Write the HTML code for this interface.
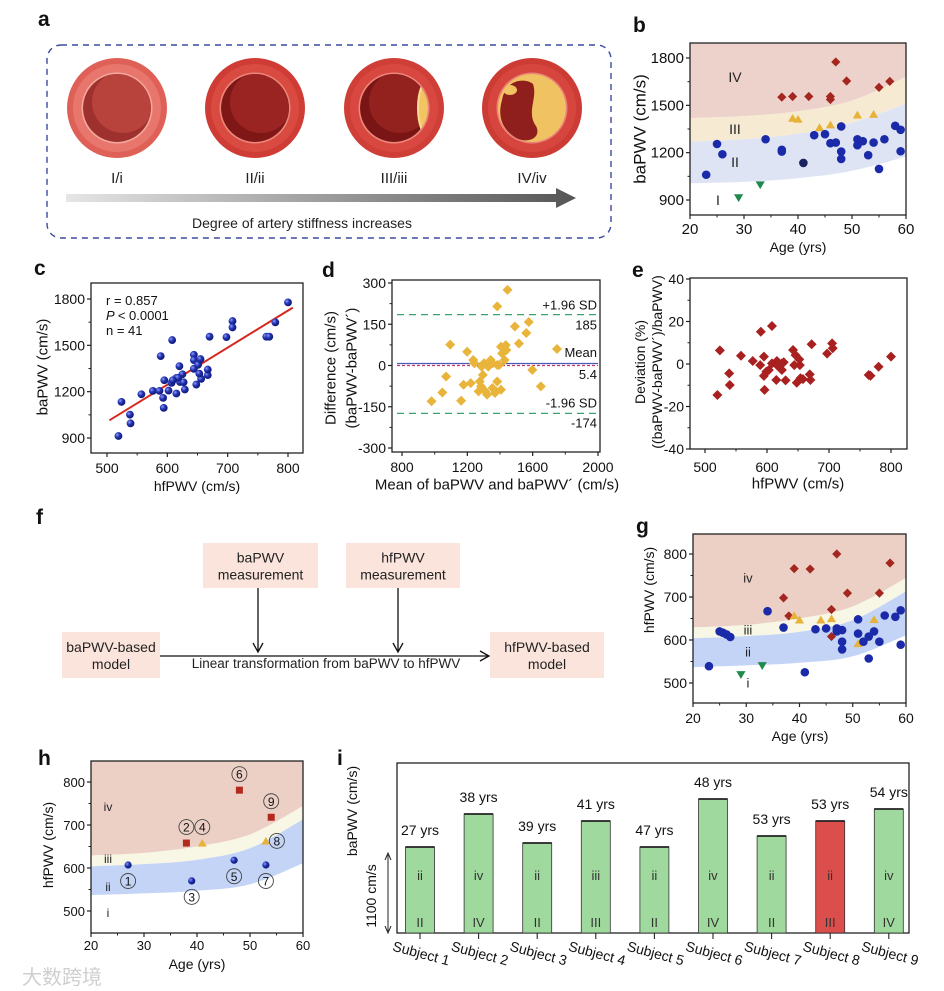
<!DOCTYPE html>
<html><head><meta charset="utf-8"><style>
html,body{margin:0;padding:0;background:#fff;}
svg{display:block;font-family:"Liberation Sans","Noto Sans CJK SC",sans-serif;}
</style></head>
<body>
<svg id="fig" xmlns="http://www.w3.org/2000/svg" width="944" height="991" viewBox="0 0 944 991">
<defs>
<linearGradient id="arrowGrad" x1="0" x2="1" y1="0" y2="0"><stop offset="0" stop-color="#e6e6e6"/><stop offset="1" stop-color="#555"/></linearGradient>
<radialGradient id="sphere" cx="0.35" cy="0.35" r="0.7"><stop offset="0" stop-color="#8d9bff"/><stop offset="0.45" stop-color="#2233b0"/><stop offset="1" stop-color="#0d1670"/></radialGradient>
<clipPath id="clipB"><rect x="690" y="43" width="216" height="172"/></clipPath>
<clipPath id="clipG"><rect x="693" y="534" width="213" height="169"/></clipPath>
<clipPath id="clipH"><rect x="91" y="761" width="212" height="172"/></clipPath>
</defs>
</svg>
<script>
// ---------- data ----------
const bCircleAge=[23,25,26,34,37,37,41,43,45,46,47,48,48,48,51,51,52,53,54,55,56,58,59,59];
const bCircleVal=[1060,1255,1190,1285,1218,1207,1135,1311,1317,1260,1264,1366,1207,1160,1285,1247,1273,1184,1264,1097,1285,1370,1345,1209];
const bTriAge=[39,40,44,46,51,54];
const bTriVal=[1419,1413,1360,1377,1440,1444];
const bDiaAge=[37,39,42,46,46,47,49,55,57];
const bDiaVal=[1552,1556,1556,1556,1537,1775,1654,1614,1652];
const bDownAge=[29,33];
const bDownVal=[913,995];
const bandAges=[20,30,40,50,60];
const bUpper=[1419,1432,1462,1530,1680];
const bMid=[1270,1285,1320,1390,1510];
const bLower=[1006,1015,1038,1085,1175];

const cHf=[519,524,538,539,557,576,587,589,593,594,595,602,607,608,615,615,620,621,625,627,629,644,644,644,648,651,655,656,667,667,670,698,708,708,764,769,779,800,618,609,653];
const cBa=[913,1134,1051,995,1183,1205,1205,1430,1160,1095,1274,1207,1257,1534,1188,1289,1365,1263,1313,1261,1214,1348,1439,1404,1246,1374,1411,1283,1307,1343,1556,1553,1657,1616,1556,1556,1649,1778,1290,1274,1317];
const cFitSlope=2.40, cFitIntercept=-195, cFitRange=[504,808];
const cStats=["r = 0.857","< 0.0001","n = 41"];

const dMean=[981,1047,1070,1095,1162,1177,1199,1221,1236,1243,1269,1276,1284,1287,1295,1302,1310,1321,1328,1343,1354,1354,1369,1376,1383,1383,1395,1406,1406,1413,1383,1428,1435,1439,1446,1491,1516,1561,1576,1598,1650,1749];
const dDiff=[-130,-98,-40,76,-128,-70,50,-64,20,8,-94,-58,-76,-4,-34,8,-94,-106,-4,20,-82,8,-100,-94,2,-58,2,68,-88,44,215,20,74,56,275,142,80,118,158,-16,-76,60];
const dLimits=[185,5.4,-174];

const eHf=[520,524,539,540,558,577,589,590,595,595,596,608,608,599,603,616,616,618,615,624,624,627,630,642,644,648,646,652,653,654,658,669,670,672,697,705,706,764,767,780,800];
const eDev=[-14.6,6.4,-4.4,-9.9,3.9,1.4,-0.5,15.2,3.5,-5.6,-12.2,17.9,0.3,-3.6,-2.8,1.4,-0.5,-0.8,-7.5,-2.8,0.3,0.8,-7.7,6.6,-0.5,-8.8,4.2,2.2,-0.5,-6.7,-7.1,-4.9,-7.5,9.3,4.9,9.7,7.4,-5.2,-5.5,-1.3,3.5];

const gCircleAge=[23,25,25.6,26.3,27,34,37,41,43,45,47,47,48,48,48,51,51,52,53,53,54,55,56,58,59,59];
const gCircleVal=[539,620,617,613,607,667,629,525,625,627,627,620,623,596,578,648,615,596,608,557,620,596,657,654,669,589];
const gTriAge=[39,40,44,46,51,54];
const gTriVal=[657,647,647,650,592,648];
const gDiaAge=[37,38,39,42,46,46,47,49,55,57];
const gDiaVal=[698,656,766,765,671,608,800,709,709,779];
const gDownAge=[29,33];
const gDownVal=[519,540];
const gUpper=[629,635,650,678,744];
const gMid=[604,609,619,646,713];
const gLower=[537,541,547,562,611];

const hIds=["1","2","3","4","5","6","7","8","9"];
const hAge=[27,38,39,41,47,48,53,53,54];
const hVal=[607,658,570,658,618,781,607,663,718];
const hType=["c","s","c","t","c","s","c","t","s"];
const hLabelPos=["below","above","below","above","below","above","below","right","above"];

const iSubjects=["Subject 1","Subject 2","Subject 3","Subject 4","Subject 5","Subject 6","Subject 7","Subject 8","Subject 9"];
const iBaPWV=[1444,1576,1460,1548,1444,1636,1488,1548,1596];
const iAges=["27 yrs","38 yrs","39 yrs","41 yrs","47 yrs","48 yrs","53 yrs","53 yrs","54 yrs"];
const iHfClass=["ii","iv","ii","iii","ii","iv","ii","ii","iv"];
const iBaClass=["II","IV","II","III","II","IV","II","III","IV"];
const iMismatch=[false,false,false,false,false,false,false,true,false];

// ---------- helpers ----------
const NS='http://www.w3.org/2000/svg';
const svg=document.getElementById('fig');
function mk(tag,attrs,parent){const e=document.createElementNS(NS,tag);for(const k in attrs)e.setAttribute(k,attrs[k]);(parent||svg).appendChild(e);return e;}
function txt(s,attrs,parent){const e=mk('text',attrs,parent);e.textContent=s;return e;}
function lin(d0,d1,r0,r1){return v=>r0+(v-d0)*(r1-r0)/(d1-d0);}
function grp(name){const g=mk('g',{});return g;}
function curve(xs,vs){const pts=[];const n=xs.length;for(let i=0;i<n-1;i++){const p0=i>0?i-1:i,p3=i+2<n?i+2:i+1;for(let s=0;s<12;s++){const t=s/12;const f=(a,b,c,d)=>0.5*(2*b+(-a+c)*t+(2*a-5*b+4*c-d)*t*t+(-a+3*b-3*c+d)*t*t*t);pts.push([f(xs[p0],xs[i],xs[i+1],xs[p3]),f(vs[p0],vs[i],vs[i+1],vs[p3])]);}}pts.push([xs[n-1],vs[n-1]]);return pts;}
function axes(p,g,box,sx,sy,xt,xm,yt,ym,fs,xly){
  const r=mk('rect',{x:box[0],y:box[1],width:box[2]-box[0],height:box[3]-box[1],fill:'none',stroke:'#222','stroke-width':1.3},g);
  
  
  xt.forEach(v=>{const x=sx(v);
    const t=mk('line',{x1:x,x2:x,y1:box[3],y2:box[3]+4,stroke:'#222','stroke-width':1.2},g);
    
    
    const l=txt(String(v),{x:x,y:xly,'font-size':fs,'text-anchor':'middle',fill:'#111'},g);
    
    });
  xm.forEach(v=>{const x=sx(v);
    const t=mk('line',{x1:x,x2:x,y1:box[3],y2:box[3]+2.5,stroke:'#222','stroke-width':1},g);
    
    });
  yt.forEach(v=>{const y=sy(v);
    const t=mk('line',{x1:box[0]-4,x2:box[0],y1:y,y2:y,stroke:'#222','stroke-width':1.2},g);
    
    
    const l=txt(String(v),{x:box[0]-6,y:y+5,'font-size':fs,'text-anchor':'end',fill:'#111'},g);
    
    });
  ym.forEach(v=>{const y=sy(v);
    const t=mk('line',{x1:box[0]-2.5,x2:box[0],y1:y,y2:y,stroke:'#222','stroke-width':1},g);
    
    });
}
function ytitle(s,x,y,fs,g,name){const t=txt(s,{x:x,y:y,'font-size':fs,'text-anchor':'middle','dominant-baseline':'central',transform:`rotate(-90 ${x} ${y})`,fill:'#111'},g);return t;}
function xtitle(s,x,y,fs,g,name){const t=txt(s,{x:x,y:y,'font-size':fs,'text-anchor':'middle','dominant-baseline':'central',fill:'#111'},g);return t;}
function plabel(s,x,y){const t=txt(s,{x:x,y:y,'font-size':21,'font-weight':'bold',fill:'#111'});}
function bands(g,clip,sx,sy,box,up,mid,low,cols,name){
  const gg=mk('g',{'clip-path':`url(#${clip})`},g);
  
  
  const U=curve(bandAges,up).map(p=>[sx(p[0]),sy(p[1])]);
  const M=curve(bandAges,mid).map(p=>[sx(p[0]),sy(p[1])]);
  const L=curve(bandAges,low).map(p=>[sx(p[0]),sy(p[1])]);
  const pl=a=>a.map(p=>p[0].toFixed(1)+','+p[1].toFixed(1)).join(' L');
  const rev=a=>a.slice().reverse();
  const z4=mk('path',{d:`M${box[0]-2},${box[1]-2} L${pl(U)} L${box[2]+2},${box[1]-2} Z`,fill:cols[0]},gg);
  
  
  const z3=mk('path',{d:`M${pl(U)} L${pl(rev(M))} Z`,fill:cols[1]},gg);
  
  
  const z2=mk('path',{d:`M${pl(M)} L${pl(rev(L))} Z`,fill:cols[2]},gg);
  
  
}
function diamond(x,y,r,fill,g,name){const e=mk('path',{d:`M${x},${y-r} L${x+r},${y} L${x},${y+r} L${x-r},${y} Z`,fill:fill},g);return e;}
function tri(x,y,r,fill,g,name,down){const d=down?`M${x-r},${y-r*0.8} L${x+r},${y-r*0.8} L${x},${y+r*0.9} Z`:`M${x-r},${y+r*0.8} L${x+r},${y+r*0.8} L${x},${y-r*0.9} Z`;const e=mk('path',{d:d,fill:fill},g);return e;}
function dot(x,y,r,fill,g,name){const e=mk('circle',{cx:x,cy:y,r:r,fill:fill},g);return e;}
function zlab(s,x,y,fs,g,name){const t=txt(s,{x:x,y:y,'font-size':fs,'text-anchor':'middle','dominant-baseline':'central',fill:'#222'},g);}
const BLUE='#1a2aa8',YEL='#e6b23a',RED='#a3261f',GRN='#1f8a4c';

// ---------- panel a ----------
plabel('a',38,26);
const gA=grp('panel-a-artery-stages');
const frame=mk('rect',{x:47,y:45,width:564,height:193,rx:14,fill:'none',stroke:'#3b4aa0','stroke-width':1.4,'stroke-dasharray':'6,5'},gA);


const artX=[117,255,394,532];
const artNames=['I/i','II/ii','III/iii','IV/iv'];
const artCols=[['#de6057','#e8766c','#f3a89e','#b8423c','#9e312d'],['#cf3c35','#d94a41','#ec877c','#9a2421','#7f1716'],['#cf3f38','#d84840','#ec877c','#93211e','#7a1515'],['#cc3c35','#d6463e','#ea8378','#8e1f1c','#761414']];
artX.forEach((cx,i)=>{const cy=108,c=artCols[i];
  const o=dot(cx,cy,50,c[0],gA,'artery-outer-wall');
  const m=dot(cx,cy,44,c[1],gA,'artery-middle-wall');
  const rg=dot(cx,cy,35.5,c[2],gA,'artery-intima');
  const cp=mk('clipPath',{id:'lum'+i},gA);
  mk('circle',{cx:cx,cy:cy,r:34},cp);
  const lg=mk('g',{'clip-path':`url(#lum${i})`},gA);
  
  
  if(i<3){dot(cx,cy,34,c[4],lg,'lumen-shadow');dot(cx+6,cy-6,31,c[3],lg,'lumen-blood');}
  if(i===2){const p=mk('ellipse',{cx:cx+36,cy:cy,rx:12,ry:30,fill:'#f2c462',stroke:'#f8dc98','stroke-width':2},lg);}
  if(i===3){dot(cx,cy,34,'#f0c262',lg,'plaque');
    const b=mk('path',{d:`M${cx-30},${cy-8} C${cx-26},${cy-30} ${cx-6},${cy-30} ${cx+1},${cy-24} C${cx+6},${cy-10} ${cx-6},${cy+4} ${cx+4},${cy+18} C${cx+10},${cy+30} ${cx-4},${cy+36} ${cx-16},${cy+30} C${cx-32},${cy+20} ${cx-34},${cy+6} ${cx-30},${cy-8} Z`,fill:c[3]},lg);
    
    
    const p2=mk('ellipse',{cx:cx-22,cy:cy-18,rx:7,ry:5,fill:'#f0c262'},lg);
    
    }
  const l=txt(artNames[i],{x:cx,y:183,'font-size':15,'text-anchor':'middle',fill:'#222'},gA);
  
  
});
const arr=mk('path',{d:'M66,194 L556,194 L556,188 L576,198 L556,208 L556,202 L66,202 Z',fill:'url(#arrowGrad)'},gA);


const at=txt('Degree of artery stiffness increases',{x:302,y:228,'font-size':14,'text-anchor':'middle',fill:'#222'},gA);



// ---------- panel b ----------
plabel('b',633,32);
const gB=grp('panel-b-bapwv-vs-age');
const bBox=[690,43,906,215];
const bx=lin(20,60,690,906), by=lin(900,1800,200,58);
bands(gB,'clipB',bx,by,bBox,bUpper,bMid,bLower,['#ecd2ca','#f6ebd2','#dfe4f5'],'b');
zlab('IV',735,77,14,gB,'zone-label-IV');
zlab('III',735,129,14,gB,'zone-label-III');
zlab('II',735,162,14,gB,'zone-label-II');
zlab('I',718,200,14,gB,'zone-label-I');
bDiaAge.forEach((a,i)=>diamond(bx(a),by(bDiaVal[i]),4.6,RED,gB,'b-grade-IV-point'));
bTriAge.forEach((a,i)=>tri(bx(a),by(bTriVal[i]),4.6,YEL,gB,'b-grade-III-point'));
bCircleAge.forEach((a,i)=>dot(bx(a),by(bCircleVal[i]),4.3,a===41?'#1b2360':BLUE,gB,'b-grade-II-point'));
bDownAge.forEach((a,i)=>tri(bx(a),by(bDownVal[i]),4.6,GRN,gB,'b-grade-I-point',true));
axes('b',gB,bBox,bx,by,[20,30,40,50,60],[25,35,45,55],[900,1200,1500,1800],[1050,1350,1650],15,234);
ytitle('baPWV (cm/s)',640,129,17,gB,'b-y-axis-title');
xtitle('Age (yrs)',798,247,14,gB,'b-x-axis-title');

// ---------- panel c ----------
plabel('c',34,275);
const gC=grp('panel-c-correlation');
const cBox=[91,283,303,453];
const cx_=lin(500,800,107,288), cy_=lin(900,1800,438,299);
const fit=mk('line',{x1:cx_(cFitRange[0]),y1:cy_(cFitSlope*cFitRange[0]+cFitIntercept),x2:cx_(cFitRange[1]),y2:cy_(cFitSlope*cFitRange[1]+cFitIntercept),stroke:'#d42a22','stroke-width':2},gC);


cHf.forEach((h,i)=>dot(cx_(h),cy_(cBa[i]),3.9,'url(#sphere)',gC,'c-point'));
axes('c',gC,cBox,cx_,cy_,[500,600,700,800],[550,650,750],[900,1200,1500,1800],[1050,1350,1650],14,473);
const s1=txt(cStats[0],{x:106,y:305,'font-size':13,fill:'#111'},gC);


const s2=txt('',{x:106,y:320,'font-size':13,fill:'#111'},gC);


const s2a=mk('tspan',{'font-style':'italic'},s2);s2a.textContent='P ';
const s2b=mk('tspan',{},s2);s2b.textContent=cStats[1];
const s3=txt(cStats[2],{x:106,y:335,'font-size':13,fill:'#111'},gC);


ytitle('baPWV (cm/s)',43,367,15,gC,'c-y-axis-title');
xtitle('hfPWV (cm/s)',197,486,14,gC,'c-x-axis-title');

// ---------- panel d ----------
plabel('d',322,277);
const gD=grp('panel-d-bland-altman');
const dBox=[392,280,600,452];
const dx=lin(800,2000,402,598), dy=lin(-300,300,448,283);
const dl1=mk('line',{x1:397,x2:598,y1:dy(dLimits[0]),y2:dy(dLimits[0]),stroke:'#3aa36e','stroke-width':1.3,'stroke-dasharray':'7,5'},gD);


const dl2=mk('line',{x1:397,x2:598,y1:dy(dLimits[2]),y2:dy(dLimits[2]),stroke:'#3aa36e','stroke-width':1.3,'stroke-dasharray':'7,5'},gD);


const dl0=mk('line',{x1:397,x2:598,y1:dy(0),y2:dy(0),stroke:'#c4306a','stroke-width':1.3,'stroke-dasharray':'3,2'},gD);


const dlm=mk('line',{x1:397,x2:598,y1:dy(dLimits[1])-0.5,y2:dy(dLimits[1])-0.5,stroke:'#4a5ab5','stroke-width':1.3},gD);


dMean.forEach((m,i)=>diamond(dx(m),dy(dDiff[i]),5,'#e8b43a',gD,'d-point'));
axes('d',gD,dBox,dx,dy,[800,1200,1600,2000],[1000,1400,1800],[-300,-150,0,150,300],[-225,-75,75,225],14,472);
[['+1.96 SD',dy(dLimits[0])-5],[String(dLimits[0]),dy(dLimits[0])+15],['Mean',dy(dLimits[1])-7],[String(dLimits[1]),dy(dLimits[1])+15],['-1.96 SD',dy(dLimits[2])-6],[String(dLimits[2]),dy(dLimits[2])+14]].forEach(a=>{
  const t=txt(a[0],{x:597,y:a[1],'font-size':13,'text-anchor':'end',fill:'#111'},gD);
  
  });
ytitle('Difference (cm/s)',331,368,15,gD,'d-y-axis-title');
ytitle('(baPWV-baPWV´)',352,368,15,gD,'d-y-axis-subtitle');
xtitle('Mean of baPWV and baPWV´ (cm/s)',497,485,15,gD,'d-x-axis-title');

// ---------- panel e ----------
plabel('e',632,277);
const gE=grp('panel-e-deviation');
const eBox=[690,278,907,449];
const ex=lin(500,800,705,891), ey=lin(-40,40,449,279);
eHf.forEach((h,i)=>diamond(ex(h),ey(eDev[i]),5,'#a8201f',gE,'e-point'));
axes('e',gE,eBox,ex,ey,[500,600,700,800],[550,650,750],[-40,-20,0,20,40],[-30,-10,10,30],14,472);
ytitle('Deviation (%)',640,362,14,gE,'e-y-axis-title');
ytitle('((baPWV-baPWV´)/baPWV)',657,362,14,gE,'e-y-axis-subtitle');
xtitle('hfPWV (cm/s)',798,484,15,gE,'e-x-axis-title');

// ---------- panel f ----------
plabel('f',36,524);
const gF=grp('panel-f-flowchart');
function fbox(x,y,w,h,l1,l2,name){const r=mk('rect',{x:x,y:y,width:w,height:h,fill:'#fbe4db'},gF);
  const t1=txt(l1,{x:x+w/2,y:y+h/2-3,'font-size':14,'text-anchor':'middle',fill:'#222'},gF);
  const t2=txt(l2,{x:x+w/2,y:y+h/2+14,'font-size':14,'text-anchor':'middle',fill:'#222'},gF);}
fbox(203,543,115,45,'baPWV','measurement','bapwv-measurement-box');
fbox(346,543,114,45,'hfPWV','measurement','hfpwv-measurement-box');
fbox(62,632,98,46,'baPWV-based','model','bapwv-model-box');
fbox(490,632,114,46,'hfPWV-based','model','hfpwv-model-box');
function farrow(d,name){const p=mk('path',{d:d,fill:'none',stroke:'#111','stroke-width':1.3},gF);}
farrow('M258,588 L258,651 M253,643 L258,652 L263,643','bapwv-arrow');
farrow('M398,588 L398,651 M393,643 L398,652 L403,643','hfpwv-arrow');
farrow('M160,656 L488,656 M480,651 L489,656 L480,661','transformation-arrow');
const ft=txt('Linear transformation from baPWV to hfPWV',{x:326,y:668,'font-size':13.5,'text-anchor':'middle',fill:'#222'},gF);



// ---------- panel g ----------
plabel('g',636,533);
const gG=grp('panel-g-hfpwv-vs-age');
const gBox=[693,534,906,703];
const gx=lin(20,60,693,906), gy=lin(500,800,683,554);
bands(gG,'clipG',gx,gy,gBox,gUpper,gMid,gLower,['#ecd0c6','#f8f7e6','#c3d4f6'],'g');
zlab('iv',748,578,13,gG,'zone-label-iv');
zlab('iii',748,630,13,gG,'zone-label-iii');
zlab('ii',748,652,13,gG,'zone-label-ii');
zlab('i',748,683,13,gG,'zone-label-i');
gDiaAge.forEach((a,i)=>diamond(gx(a),gy(gDiaVal[i]),4.6,RED,gG,'g-grade-iv-point'));
gTriAge.forEach((a,i)=>tri(gx(a),gy(gTriVal[i]),4.6,YEL,gG,'g-grade-iii-point'));
gCircleAge.forEach((a,i)=>dot(gx(a),gy(gCircleVal[i]),4.3,BLUE,gG,'g-grade-ii-point'));
gDownAge.forEach((a,i)=>tri(gx(a),gy(gDownVal[i]),4.6,GRN,gG,'g-grade-i-point',true));
axes('g',gG,gBox,gx,gy,[20,30,40,50,60],[25,35,45,55],[500,600,700,800],[550,650,750],14,723);
ytitle('hfPWV (cm/s)',649,590,14,gG,'g-y-axis-title');
xtitle('Age (yrs)',800,736,14,gG,'g-x-axis-title');

// ---------- panel h ----------
plabel('h',38,765);
const gH=grp('panel-h-subjects');
const hBox=[91,761,303,933];
const hx=lin(20,60,91,303), hy=lin(500,800,911,782);
bands(gH,'clipH',hx,hy,hBox,gUpper,gMid,gLower,['#ecd0c6','#f8f7e6','#c3d4f6'],'h');
zlab('iv',108,807,12,gH,'zone-label-iv');
zlab('iii',108,859,12,gH,'zone-label-iii');
zlab('ii',108,887,12,gH,'zone-label-ii');
zlab('i',108,913,12,gH,'zone-label-i');
hAge.forEach((a,i)=>{const x=hx(a),y=hy(hVal[i]);
  if(hType[i]==='c'){dot(x,y,3.6,'url(#sphere)',gH,'h-subject-point');}
  else if(hType[i]==='s'){const s=mk('rect',{x:x-3.5,y:y-3.5,width:7,height:7,fill:'#b3291f'},gH);}
  else{tri(x,y,4.5,YEL,gH,'h-subject-point');}
  let lx=x,ly=y;const pos=hLabelPos[i];
  if(pos==='above')ly=y-16;else if(pos==='below')ly=y+16;else lx=x+11;
  const c=mk('circle',{cx:lx,cy:ly,r:7.5,fill:'none',stroke:'#444','stroke-width':0.9},gH);
  
  
  const t=txt(hIds[i],{x:lx,y:ly+4.5,'font-size':12,'text-anchor':'middle',fill:'#111'},gH);
  
  });
axes('h',gH,hBox,hx,hy,[20,30,40,50,60],[25,35,45,55],[500,600,700,800],[550,650,750],13,950);
ytitle('hfPWV (cm/s)',48,845,14,gH,'h-y-axis-title');
xtitle('Age (yrs)',197,964,14,gH,'h-x-axis-title');

// ---------- panel i ----------
plabel('i',337,765);
const gI=grp('panel-i-subject-bars');
const iBox=[397,763,909,933];
const iy=lin(1100,1600,933,808);
const ix=k=>420+k*58.6;
const ib=mk('rect',{x:iBox[0],y:iBox[1],width:iBox[2]-iBox[0],height:iBox[3]-iBox[1],fill:'none',stroke:'#222','stroke-width':1.3},gI);


iSubjects.forEach((s,k)=>{const x=ix(k),top=iy(iBaPWV[k]);
  const b=mk('rect',{x:x-14.5,y:top,width:29,height:933-top,fill:iMismatch[k]?'#dc4e4c':'#9fd99d',stroke:'#333','stroke-width':0.8},gI);
  
  
  const bt=mk('line',{x1:x-14.5,x2:x+14.5,y1:top,y2:top,stroke:'#222','stroke-width':1.8},gI);
  
  
  const a=txt(iAges[k],{x:x,y:top-12,'font-size':14,'text-anchor':'middle',fill:'#111'},gI);
  
  
  const h=txt(iHfClass[k],{x:x,y:880,'font-size':13,'text-anchor':'middle',fill:'#333'},gI);
  
  
  const u=txt(iBaClass[k],{x:x,y:927,'font-size':13,'text-anchor':'middle',fill:'#333'},gI);
  
  
  const t=mk('line',{x1:x,x2:x,y1:933,y2:939,stroke:'#222','stroke-width':1.1},gI);
  
  
  const l=txt(s,{x:x,y:958,'font-size':14,'text-anchor':'middle',fill:'#111',transform:`rotate(15 ${x} 958)`},gI);
  
  });
ytitle('baPWV (cm/s)',352,811,14,gI,'i-y-axis-title');
ytitle('1100 cm/s',371,896,14,gI,'i-baseline-label');
const ia=mk('path',{d:'M388,855 L388,931 M385,860 L388,853 L391,860 M385,926 L388,933 L391,926',fill:'none',stroke:'#222','stroke-width':1},gI);



const wm=txt('大数跨境',{x:22,y:984,'font-size':20,fill:'#cfcfcf'});


</script>
</body></html>
